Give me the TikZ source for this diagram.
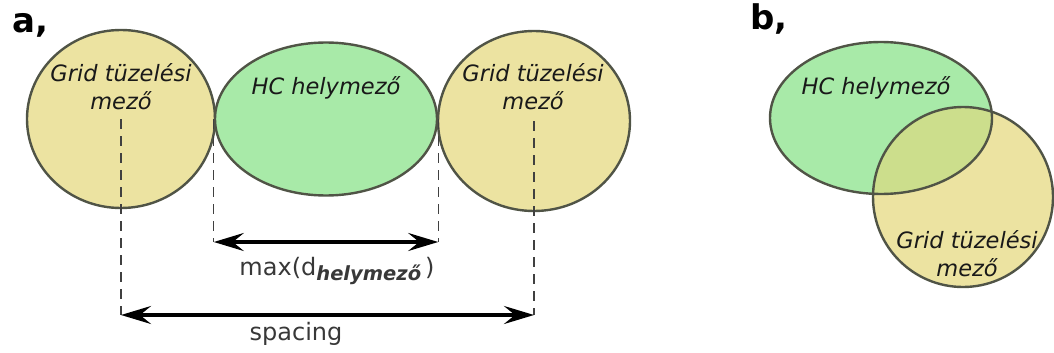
\documentclass[tikz,border=0pt]{standalone}
\usepackage{fontspec}
\setmainfont{DejaVu Sans}
\usepackage{xcolor}
\usetikzlibrary{arrows.meta,shapes.geometric}

\definecolor{gridfill}{RGB}{236,227,161}
\definecolor{hcfill}{RGB}{168,234,168}
\definecolor{bothfill}{RGB}{204,222,140}
\definecolor{rim}{RGB}{80,84,70}

\tikzset{
  zone/.style={ellipse, draw=rim, line width=2.4pt, inner sep=0pt},
  gridzone/.style={zone, fill=gridfill},
  hczone/.style={zone, fill=hcfill},
  zonetext/.style={align=center, font=\fontsize{22.5}{28}\selectfont\itshape, text=black!90},
  panel/.style={anchor=base west, font=\fontsize{34}{34}\selectfont\bfseries},
  guide/.style={dash pattern=on 10pt off 7pt, line width=1.3pt, draw=black!75},
  dimline/.style={<->, >={Stealth[length=30pt,width=18pt,inset=11pt]}, line width=3.5pt},
  dimtext/.style={anchor=base, font=\fontsize{24}{28}\selectfont, text=black!78},
}
\newcommand{\subfield}[1]{\raisebox{-5pt}{\fontsize{19.5}{20}\selectfont\bfseries\itshape #1}}

\begin{document}
\begin{tikzpicture}[x=1pt, y=-1pt]
\useasboundingbox (0,0) rectangle (1054,353);

% a, -- fields side by side
\node[panel] (pa) at (9,33) {a,};
\node[gridzone, minimum width=188, minimum height=178] (g1) at (121,119) {};
\node[hczone, minimum width=222, minimum height=153] (hc) at (326,119) {};
\node[gridzone, minimum width=192, minimum height=180] (g2) at (534,121) {};
\node[zonetext] (g1t) at (121,87) {Grid tüzelési\\mező};
\node[zonetext] (hct) at (326,88) {HC helymező};
\node[zonetext] (g2t) at (533,87) {Grid tüzelési\\mező};

\coordinate (mL) at (hc.west |- 0,242);
\coordinate (mR) at (hc.east |- 0,242);
\coordinate (sL) at (121,315);
\coordinate (sR) at (534,315);
\draw[guide] (g1.center) -- (sL);
\draw[guide] (g2.center) -- (sR);
\draw[guide] (hc.west) -- (mL);
\draw[guide] (hc.east) -- (mR);
\draw[dimline] (mL) -- (mR);
\draw[dimline] (sL) -- (sR);
\node[dimtext] (ml) at (337,275) {max(d\subfield{helymező}\,)};
\node[dimtext] (sl) at (296,340) {spacing};

% b, -- overlapping fields
\node[panel] (pb) at (747,30) {b,};
\node[hczone, draw=none, minimum width=222, minimum height=152] (hcb) at (881,118) {};
\node[gridzone, draw=none, minimum width=180, minimum height=180] (gb) at (963,197) {};
\begin{scope}
  \clip (gb.center) ellipse (90 and 90);
  \fill[bothfill] (hcb.center) ellipse (111 and 76);
\end{scope}
\draw[rim, line width=2.4pt] (hcb.center) ellipse (111 and 76);
\draw[rim, line width=2.4pt] (gb.center) ellipse (90 and 90);
\node[zonetext] (hcbt) at (876,88) {HC helymező};
\node[zonetext] (gbt) at (967,254) {Grid tüzelési\\mező};
\end{tikzpicture}
\end{document}
